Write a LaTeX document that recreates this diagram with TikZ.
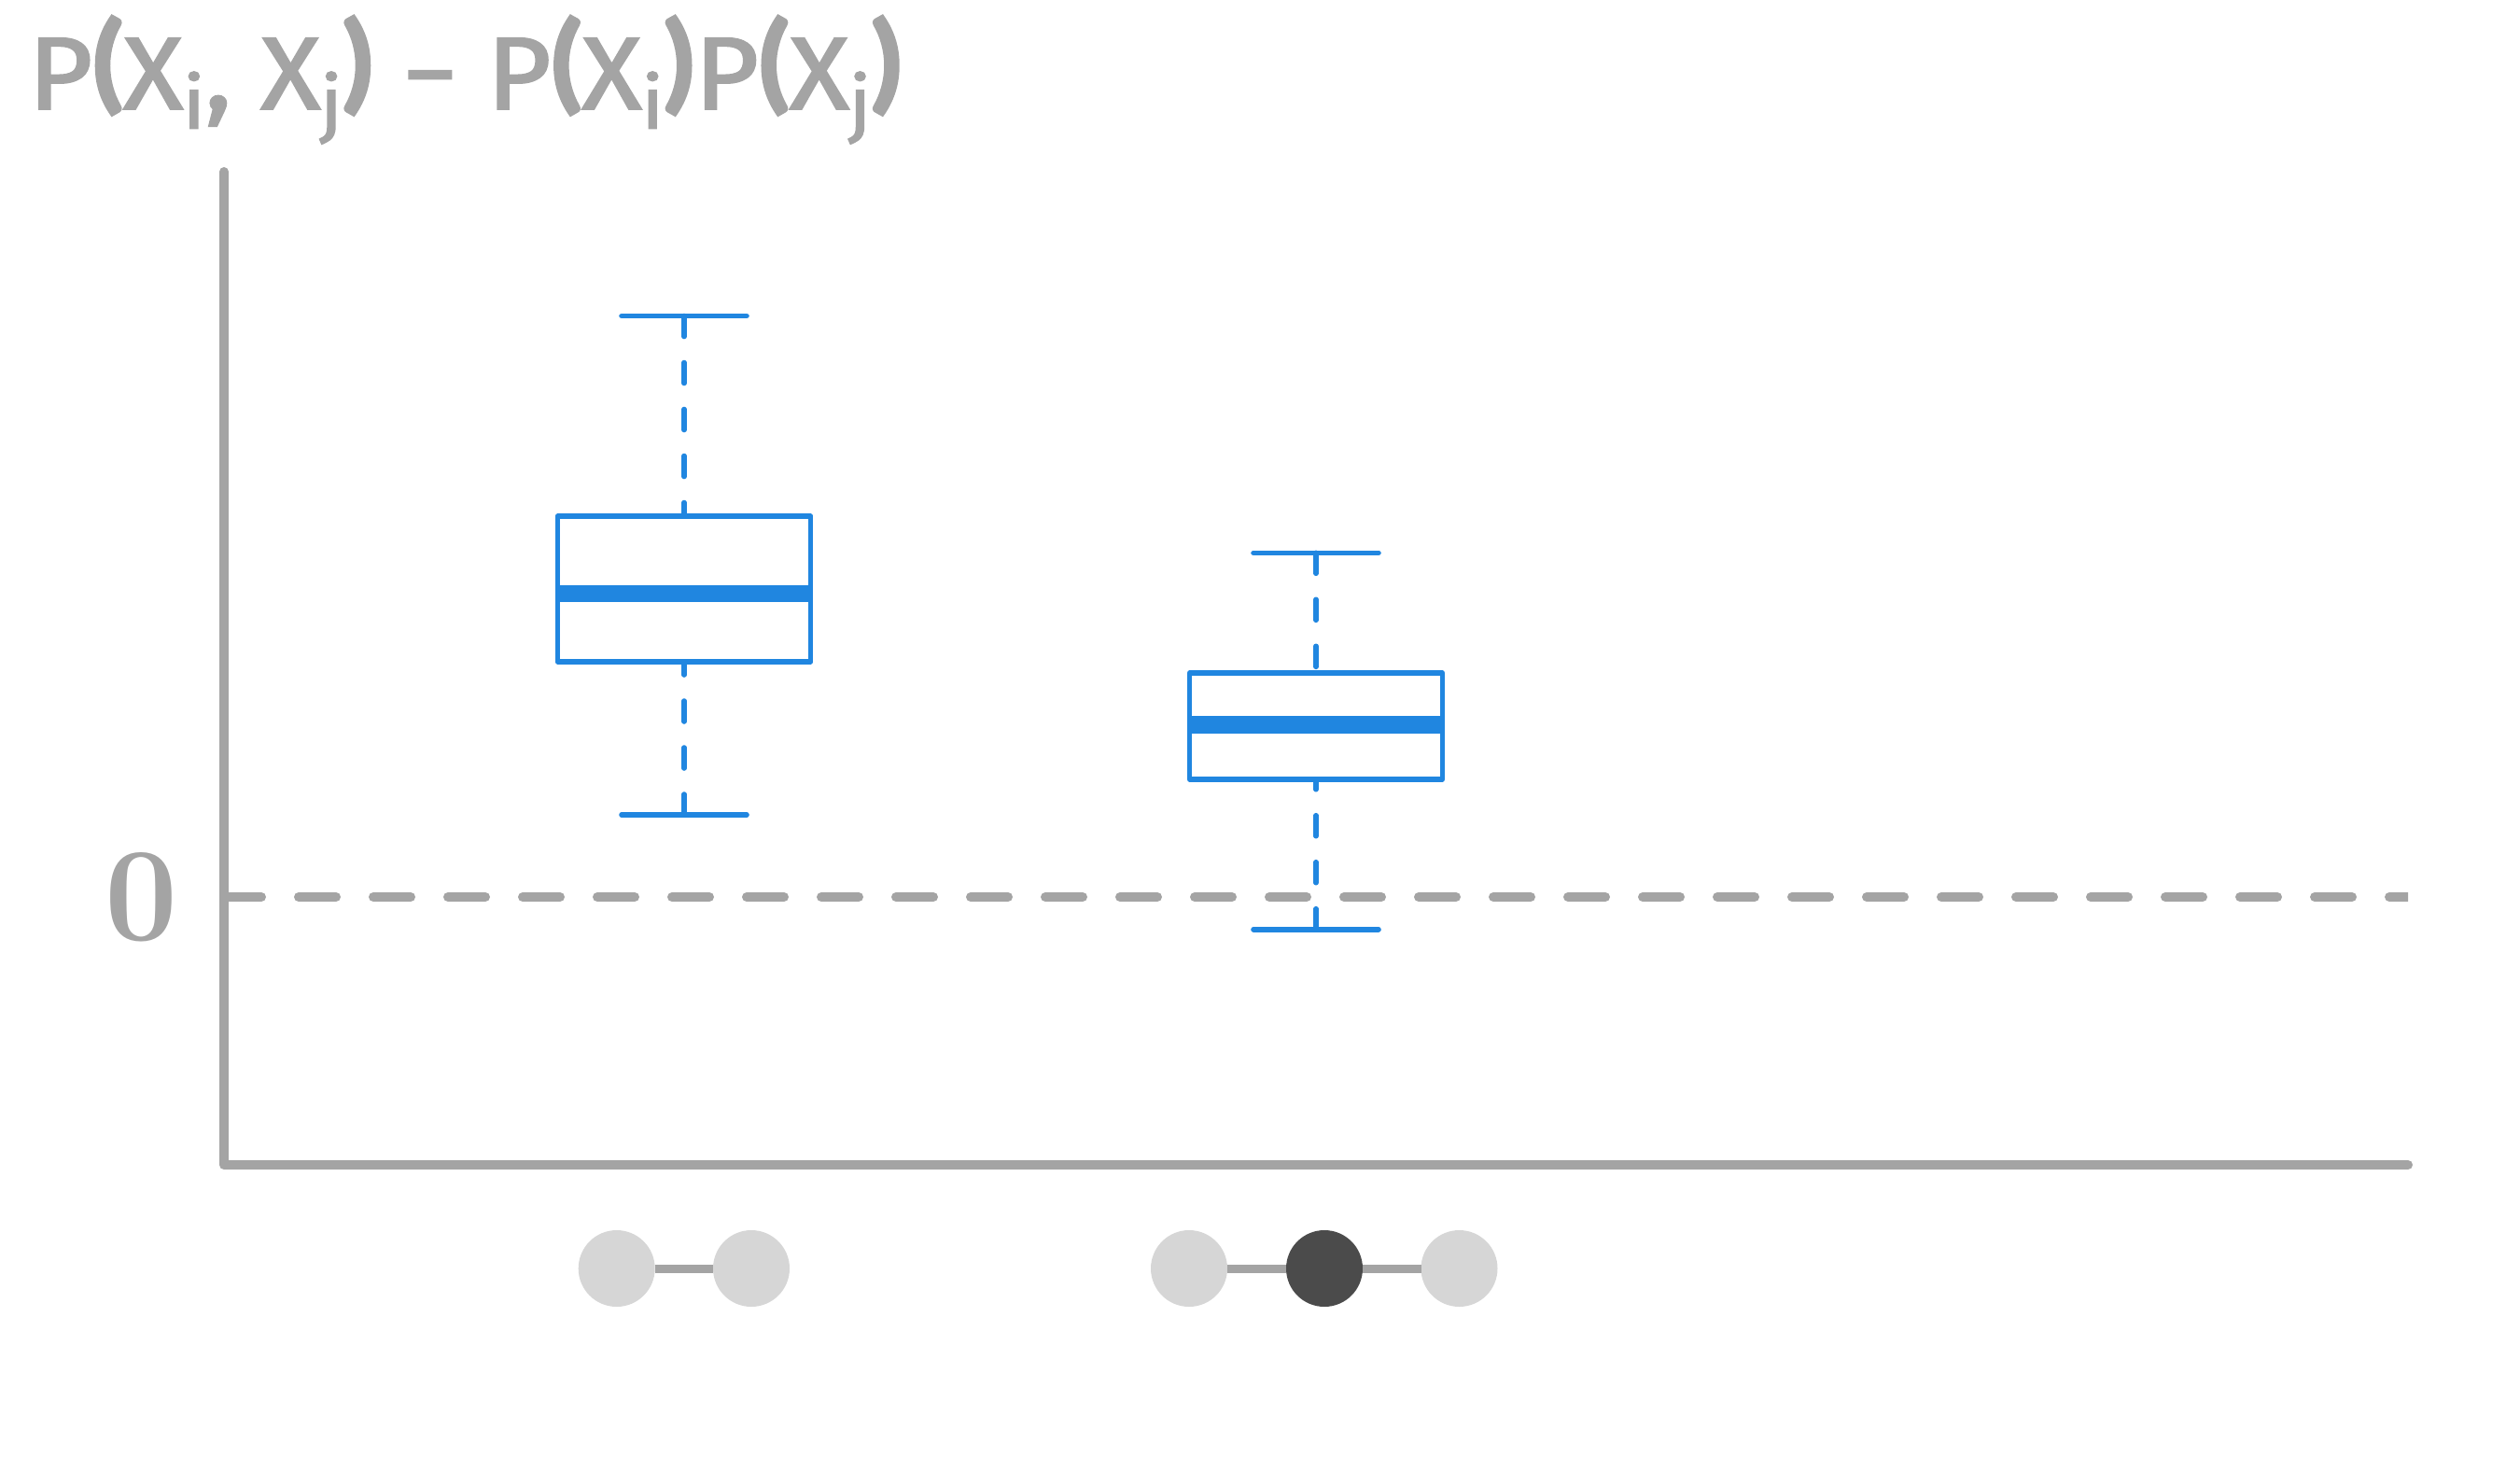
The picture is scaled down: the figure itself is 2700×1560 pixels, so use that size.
\documentclass[tikz,border=0pt]{standalone}
\usepackage{fontspec}
\usepackage{graphicx}
\usetikzlibrary{calc}
\newfontfamily\titlefont[FakeBold=2]{Fira Sans}
\newfontfamily\parenfont[FakeBold=3]{Lato}
\definecolor{axisgray}{HTML}{A4A4A4}
\definecolor{boxblue}{HTML}{2086E0}
\definecolor{nodelight}{HTML}{D6D6D6}
\definecolor{nodedark}{HTML}{4B4B4B}
\newcommand{\tsub}[1]{\raisebox{-10.5pt}{\fontsize{39pt}{39pt}\selectfont #1}}
\newcommand{\tlp}{\raisebox{5.7pt}{\parenfont\fontsize{56pt}{56pt}\selectfont\bfseries (}}
\newcommand{\trp}{\raisebox{5.7pt}{\parenfont\fontsize{56pt}{56pt}\selectfont\bfseries )}}
\tikzset{
  axisline/.style={draw=axisgray, line width=5pt, line cap=round, line join=round},
  zeroline/.style={draw=axisgray, line width=5pt, line cap=round, dash pattern=on 20pt off 20pt},
  bluebox/.style={draw=boxblue, line width=2.8pt, line join=round, rectangle, inner sep=0pt, outer sep=0pt},
  whisk/.style={draw=boxblue, line width=2.8pt, line cap=round, dash pattern=on 11pt off 14pt},
  capline/.style={draw=boxblue, line width=2.8pt, line cap=round},
  medianband/.style={fill=boxblue},
  atom/.style={circle, minimum size=41pt, inner sep=0pt, outer sep=0pt},
  lightatom/.style={atom, fill=nodelight},
  darkatom/.style={atom, fill=nodedark},
  link/.style={draw=axisgray, line width=4.5pt},
}
\begin{document}
\begin{tikzpicture}[x=0.5pt,y=-0.5pt]
\useasboundingbox (0,0) rectangle (2700,1560);

% title
\node[anchor=base west, inner sep=0pt, text=axisgray] (title) at (30,116.7)
  {\resizebox{468pt}{\height}{\titlefont\fontsize{55pt}{55pt}\selectfont
   P\tlp X\tsub{i}, X\tsub{j}\trp\ −\ P\tlp X\tsub{i}\trp P\tlp X\tsub{j}\trp}};

% axes
\coordinate (ytop) at (240,184);
\coordinate (origin) at (240,1248);
\coordinate (xend) at (2580,1248);
\draw[axisline] (ytop) -- (origin) -- (xend);

% zero line
\coordinate (zl) at (240,961);
\coordinate (zr) at (2600,961);
\begin{scope}
\clip (0,900) rectangle (2580,1020);
\draw[zeroline] (zl) -- (zr);
\end{scope}
\node[inner sep=0pt, text=axisgray] (zero) at (151,961) {\resizebox{39pt}{47pt}{\bfseries 0}};

% box 1
\node[bluebox, minimum width=135.5pt, minimum height=78pt] (b1) at (733,631) {};
\fill[medianband] (597.5,627) rectangle (868.5,645);
\coordinate (b1capT) at (733,338.5);
\coordinate (b1capB) at (733,873);
\draw[whisk] (b1capT) -- (b1.north);
\draw[whisk] (b1capB) -- (b1.south);
\draw[capline] ($(b1capT)+(-67,0)$) -- ($(b1capT)+(67,0)$);
\draw[capline] ($(b1capB)+(-67,0)$) -- ($(b1capB)+(67,0)$);

% box 2
\node[bluebox, minimum width=135.4pt, minimum height=57pt] (b2) at (1410,778) {};
\fill[medianband] (1274.6,766.5) rectangle (1545.4,785.5);
\coordinate (b2capT) at (1410,592.3);
\coordinate (b2capB) at (1410,995.7);
\draw[whisk] (b2capT) -- (b2.north);
\draw[whisk] (b2capB) -- (b2.south);
\draw[capline] ($(b2capT)+(-67,0)$) -- ($(b2capT)+(67,0)$);
\draw[capline] ($(b2capB)+(-67,0)$) -- ($(b2capB)+(67,0)$);

% graphs below
\node[lightatom] (c1) at (660.7,1359) {};
\node[lightatom] (c2) at (805,1359) {};
\node[lightatom] (c3) at (1274,1359) {};
\node[darkatom] (c4) at (1419,1359) {};
\node[lightatom] (c5) at (1563.5,1359) {};
\draw[link] (c1) -- (c2);
\draw[link] (c3) -- (c4);
\draw[link] (c4) -- (c5);
\end{tikzpicture}
\end{document}
